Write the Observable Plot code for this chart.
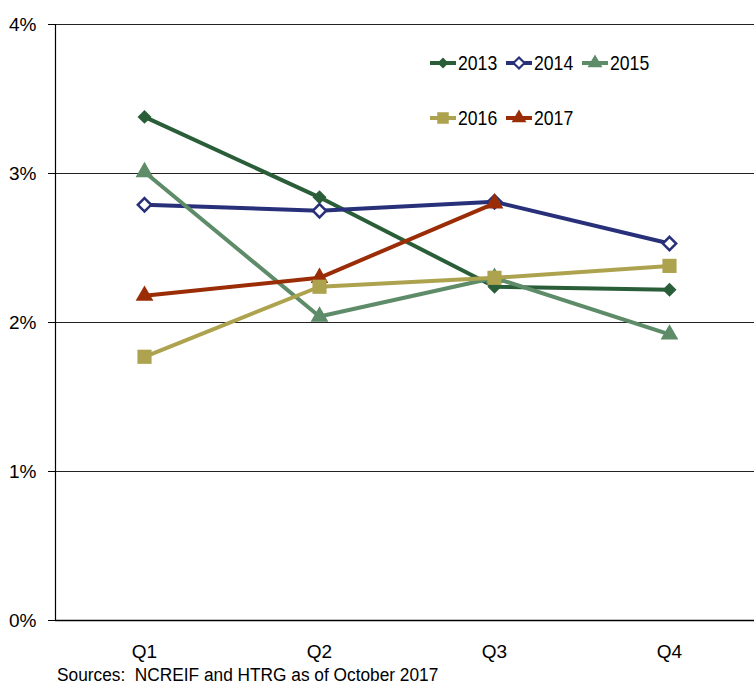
<!DOCTYPE html>
<html>
<head>
<meta charset="utf-8">
<script src="https://cdn.jsdelivr.net/npm/d3@7"></script>
<script src="https://cdn.jsdelivr.net/npm/@observablehq/plot@0.6"></script>
<style>
  html, body { margin: 0; padding: 0; background: #fff; }
  #wrap { position: relative; width: 754px; height: 686px; overflow: hidden;
          font-family: "Liberation Sans Narrow", "Arial Narrow", "Liberation Sans", Arial, sans-serif; }
  #caption { position: absolute; left: 57px; top: 665px; font-size: 18px; line-height: 20px; color: #000;
             transform: scaleX(0.96); transform-origin: left center; white-space: pre; }
  .leg { position: absolute; display: flex; align-items: center; font-size: 21px; color: #000; }
  .leg svg { display: block; margin-right: 2px; }
  .leg span { display: inline-block; transform: scaleX(0.84); transform-origin: left center; }
</style>
</head>
<body>
<div id="wrap"></div>
<script>
const quarters = ["Q1", "Q2", "Q3", "Q4"];
const years = ["2013", "2014", "2015", "2016", "2017"];
const v2013 = [3.38, 2.84, 2.24, 2.22];
const v2014 = [2.79, 2.75, 2.81, 2.53];
const v2015 = [3.01, 2.04, 2.30, 1.92];
const v2016 = [1.77, 2.24, 2.30, 2.38];
const v2017 = [2.18, 2.30, 2.80];
const yTicks = [0, 1, 2, 3, 4];
const caption = "Sources:  NCREIF and HTRG as of October 2017";

const seriesValues = {"2013": v2013, "2014": v2014, "2015": v2015, "2016": v2016, "2017": v2017};
const colors = {"2013": "#2a5e38", "2014": "#28307a", "2015": "#5e8b68", "2016": "#ada34f", "2017": "#9a2c06"};
const symbols = {"2013": "diamond2", "2014": "diamond2", "2015": "triangle", "2016": "square", "2017": "triangle"};
const hollow = {"2014": true};
const radius = {"2013": 6.3, "2014": 6.0, "2015": 6.6, "2016": 8.0, "2017": 6.6};
const drawOrder = ["2013", "2014", "2015", "2017", "2016"];

const rows = years.flatMap(yr => seriesValues[yr].map((v, i) => ({year: yr, quarter: quarters[i], value: v})));

const marks = [
  Plot.ruleY(yTicks.filter(d => d > 0), {stroke: "#222", strokeWidth: 1}),
  Plot.ruleY([0], {stroke: "#000", strokeWidth: 1.5}),
  Plot.frame({anchor: "left", stroke: "#000", strokeWidth: 1.2}),
  Plot.axisY({ticks: yTicks, tickFormat: d => d + "%", tickSize: 7, tickPadding: 12, fontSize: 19, label: null, color: "#000"}),
  Plot.axisX({tickSize: 0, tickPadding: 24, fontSize: 19, label: null})
];
for (const yr of drawOrder) {
  const d = rows.filter(r => r.year === yr);
  marks.push(Plot.line(d, {x: "quarter", y: "value", stroke: colors[yr], strokeWidth: 4}));
  marks.push(Plot.dot(d, {
    x: "quarter", y: "value", symbol: symbols[yr], r: radius[yr],
    fill: hollow[yr] ? "#fff" : colors[yr],
    stroke: hollow[yr] ? colors[yr] : "none",
    strokeWidth: hollow[yr] ? 2.5 : 0
  }));
}

const chart = Plot.plot({
  width: 754,
  height: 662,
  marginLeft: 55,
  marginRight: 0,
  marginTop: 24,
  marginBottom: 42,
  style: {fontFamily: '"Liberation Sans Narrow", "Arial Narrow", "Liberation Sans", Arial, sans-serif', background: "#fff", overflow: "visible"},
  x: {type: "point", domain: quarters, range: [55, 757], padding: 0.5},
  y: {domain: [0, 4]},
  marks
});

const wrap = document.getElementById("wrap");
wrap.appendChild(chart);

const cap = document.createElement("div");
cap.id = "caption";
cap.textContent = caption;
wrap.appendChild(cap);

// Legend (HTML overlay)
const legendPos = {
  "2013": [430, 50], "2014": [506, 50], "2015": [582, 50],
  "2016": [430, 105], "2017": [506, 105]
};
const symMap = {diamond2: d3.symbolDiamond2, triangle: d3.symbolTriangle, square: d3.symbolSquare};
const legendR = {"2013": 5, "2014": 5, "2015": 5.5, "2016": 6.5, "2017": 5.5};
for (const yr of years) {
  const item = document.createElement("div");
  item.className = "leg";
  item.style.left = legendPos[yr][0] + "px";
  item.style.top = legendPos[yr][1] + "px";
  const svg = d3.create("svg").attr("width", 26).attr("height", 26);
  svg.append("line").attr("x1", 0).attr("x2", 26).attr("y1", 13).attr("y2", 13)
     .attr("stroke", colors[yr]).attr("stroke-width", 4);
  svg.append("path")
     .attr("transform", "translate(13,13)")
     .attr("d", d3.symbol(symMap[symbols[yr]], Math.PI * legendR[yr] * legendR[yr])())
     .attr("fill", hollow[yr] ? "#fff" : colors[yr])
     .attr("stroke", hollow[yr] ? colors[yr] : "none")
     .attr("stroke-width", hollow[yr] ? 2.2 : 0);
  item.appendChild(svg.node());
  const t = document.createElement("span");
  t.textContent = yr;
  item.appendChild(t);
  wrap.appendChild(item);
}
</script>
</body>
</html>
